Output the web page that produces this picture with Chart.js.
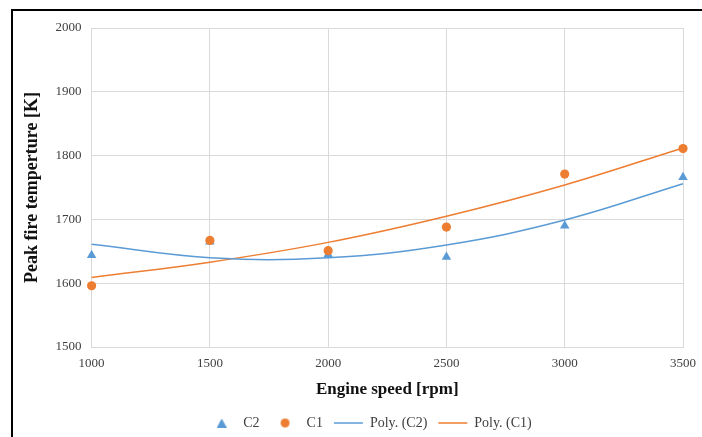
<!DOCTYPE html>
<html>
<head>
<meta charset="utf-8">
<script src="https://cdn.jsdelivr.net/npm/chart.js@4/dist/chart.umd.min.js"></script>
<style>
  html, body { margin: 0; padding: 0; background: #fff; width: 702px; height: 437px; overflow: hidden; }
  #frame { position: absolute; left: 11px; top: 9px; width: 720px; height: 460px; border-top: 2px solid #000; border-left: 2px solid #000; pointer-events: none; }
  #wrap { position: absolute; left: 0; top: 0; width: 740px; height: 437px; }
</style>
</head>
<body>
<div id="wrap"><canvas id="c" width="740" height="437"></canvas></div>
<div id="frame"></div>
<script>
const speeds = [1000, 1500, 2000, 2500, 3000, 3500];
const c2Values = [1644, 1665, 1645, 1641, 1690, 1766];
const c1Values = [1596, 1667, 1651, 1688, 1771, 1811];
const polyC2Values = [1661, 1640, 1640, 1660, 1699, 1756];
const polyC1Values = [1609, 1633, 1664, 1705, 1754, 1812];
const xTicks = [1000, 1500, 2000, 2500, 3000, 3500];
const yTicks = [1500, 1600, 1700, 1800, 1900, 2000];

const blue = '#5B9BD5';
const orange = '#ED7D31';
const toPts = (vals) => speeds.map((x, i) => ({x: x, y: vals[i]}));

function circleImg(color, r) {
  const cv = document.createElement('canvas');
  cv.width = r * 2 + 2; cv.height = r * 2 + 2;
  const g = cv.getContext('2d');
  g.fillStyle = color;
  g.beginPath(); g.arc(r + 1, r + 1, r, 0, Math.PI * 2); g.fill();
  return cv;
}
function triangleImg(color, w, h) {
  const cv = document.createElement('canvas');
  cv.width = w; cv.height = h;
  const g = cv.getContext('2d');
  g.fillStyle = color;
  g.beginPath(); g.moveTo(w / 2, 0); g.lineTo(w, h); g.lineTo(0, h); g.closePath(); g.fill();
  return cv;
}

const serif = '"Liberation Serif", "Times New Roman", serif';

const shiftLegend = {
  id: 'shiftLegend',
  afterLayout(chart) {
    if (chart.legend) { chart.legend.left += 17; chart.legend.right += 17; }
  }
};

new Chart(document.getElementById('c'), {
  type: 'scatter',
  data: {
    datasets: [
      { label: 'C2', data: toPts(c2Values), showLine: false, pointStyle: 'triangle', pointRadius: 5.5, pointHoverRadius: 5.5,
        backgroundColor: blue, borderColor: blue, borderWidth: 0, order: 1, clip: false },
      { label: 'C1', data: toPts(c1Values), showLine: false, pointStyle: 'circle', pointRadius: 4.6, pointHoverRadius: 4.6,
        backgroundColor: orange, borderColor: orange, borderWidth: 0, order: 0, clip: false },
      { label: 'Poly. (C2)', data: toPts(polyC2Values), showLine: true, pointRadius: 0, borderColor: blue, backgroundColor: blue,
        borderWidth: 1.5, tension: 0.4, pointStyle: 'line', order: 2, clip: false },
      { label: 'Poly. (C1)', data: toPts(polyC1Values), showLine: true, pointRadius: 0, borderColor: orange, backgroundColor: orange,
        borderWidth: 1.5, tension: 0.4, pointStyle: 'line', order: 3, clip: false }
    ]
  },
  options: {
    responsive: false,
    animation: false,
    layout: { padding: { left: 22, right: 57, top: 28, bottom: -3 } },
    plugins: {
      tooltip: { enabled: false },
      legend: {
        position: 'bottom',
        labels: {
          usePointStyle: true,
          pointStyleWidth: 29,
          boxHeight: 7,
          padding: 11,
          color: '#404040',
          font: { family: serif, size: 14 },
          sort: (a, b) => a.datasetIndex - b.datasetIndex,
          generateLabels: (chart) => {
            const items = Chart.defaults.plugins.legend.labels.generateLabels(chart);
            items.forEach((it) => {
              const ds = chart.data.datasets[it.datasetIndex];
              it.fillStyle = ds.backgroundColor;
              it.strokeStyle = ds.borderColor;
              if (ds.label === 'C1') { it.pointStyle = circleImg(orange, 4.5); }
              else if (ds.label === 'C2') { it.pointStyle = triangleImg(blue, 10, 9); }
              else { it.pointStyle = 'line'; it.lineWidth = 1.5; }
            });
            return items;
          }
        }
      }
    },
    scales: {
      x: {
        type: 'linear', min: 1000, max: 3500,
        afterBuildTicks: (axis) => { axis.ticks = xTicks.map(v => ({value: v})); },
        grid: { color: '#d9d9d9', drawTicks: false },
        border: { color: '#d9d9d9' },
        ticks: { color: '#404040', font: { family: serif, size: 13 }, padding: 9, callback: (v) => String(v) },
        title: { display: true, text: 'Engine speed [rpm]', color: '#111', font: { family: serif, size: 17, weight: 'bold' }, padding: { top: -1, bottom: 5 } }
      },
      y: {
        type: 'linear', min: 1500, max: 2000,
        afterBuildTicks: (axis) => { axis.ticks = yTicks.map(v => ({value: v})); },
        grid: { color: '#d9d9d9', drawTicks: false },
        border: { color: '#d9d9d9' },
        ticks: { color: '#404040', font: { family: serif, size: 13 }, padding: 10, callback: (v) => String(v) },
        title: { display: true, text: 'Peak fire temperture [K]', color: '#111', font: { family: serif, size: 18, weight: 'bold' }, padding: { top: 0, bottom: 2 } }
      }
    }
  },
  plugins: [shiftLegend]
});
</script>
</body>
</html>
